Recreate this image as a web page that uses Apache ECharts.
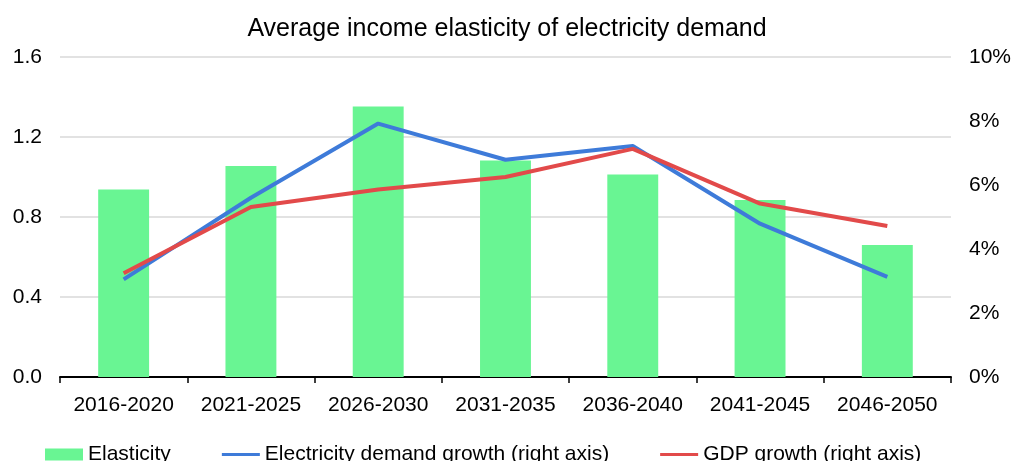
<!DOCTYPE html>
<html>
<head>
<meta charset="utf-8">
<script src="https://cdn.jsdelivr.net/npm/echarts@6/dist/echarts.min.js"></script>
<style>
html,body{margin:0;padding:0;background:#fff;}
#chart{width:1014px;height:461px;}
</style>
</head>
<body>
<div id="chart"></div>
<script>
const categories = ['2016-2020','2021-2025','2026-2030','2031-2035','2036-2040','2041-2045','2046-2050'];
const elasticity = [0.937, 1.055, 1.353, 1.083, 1.012, 0.885, 0.66];
const demandGrowth = [3.05, 5.6, 7.92, 6.79, 7.22, 4.79, 3.13];
const gdpGrowth = [3.24, 5.31, 5.86, 6.25, 7.13, 5.42, 4.72];

const FONT = '"Liberation Sans", Arial, sans-serif';
const LINE_ICON = 'path://M0,0 M0,4.3 L40,4.3 L40,7.7 L0,7.7 Z M40,12';
const chart = echarts.init(document.getElementById('chart'));
chart.setOption({
  animation: false,
  textStyle: {fontFamily: FONT},
  title: {
    text: 'Average income elasticity of electricity demand',
    left: 'center', top: 12,
    textStyle: {fontFamily: FONT, fontWeight: 'normal', fontSize: 25, color: '#000'}
  },
  grid: {left: 60, right: 62, top: 57, bottom: 84},
  legend: {
    left: 40, top: 439,
    itemWidth: 38, itemHeight: 12, itemGap: 51,
    textStyle: {fontFamily: FONT, fontSize: 21, color: '#000'},
    data: [
      {name: 'Elasticity', icon: 'rect'},
      {name: 'Electricity demand growth (right axis)', icon: LINE_ICON},
      {name: 'GDP growth (right axis)', icon: LINE_ICON}
    ]
  },
  xAxis: {
    type: 'category', data: categories,
    axisLine: {lineStyle: {color: '#000', width: 2}},
    axisTick: {show: true, length: 6, lineStyle: {color: '#000', width: 1.5}},
    axisLabel: {fontFamily: FONT, fontSize: 21, color: '#000', margin: 18, interval: 0, hideOverlap: false}
  },
  yAxis: [
    {
      type: 'value', min: 0, max: 1.6, interval: 0.4,
      axisLine: {show: false}, axisTick: {show: false},
      axisLabel: {fontFamily: FONT, fontSize: 21, color: '#000', margin: 18, formatter: v => v.toFixed(1)},
      splitLine: {lineStyle: {color: '#d9d9d9', width: 1.5}}
    },
    {
      type: 'value', min: 0, max: 10, interval: 2,
      axisLine: {show: false}, axisTick: {show: false},
      axisLabel: {fontFamily: FONT, fontSize: 21, color: '#000', margin: 18, formatter: '{value}%'},
      splitLine: {show: false}
    }
  ],
  series: [
    {
      name: 'Elasticity', type: 'bar', data: elasticity, barWidth: '40%',
      itemStyle: {color: '#69F593'}
    },
    {
      name: 'Electricity demand growth (right axis)', type: 'line', yAxisIndex: 1,
      data: demandGrowth, symbol: 'none', lineStyle: {color: '#3E7BD9', width: 4},
      itemStyle: {color: '#3E7BD9'}
    },
    {
      name: 'GDP growth (right axis)', type: 'line', yAxisIndex: 1,
      data: gdpGrowth, symbol: 'none', lineStyle: {color: '#E24A4A', width: 4},
      itemStyle: {color: '#E24A4A'}
    }
  ]
});
</script>
</body>
</html>
